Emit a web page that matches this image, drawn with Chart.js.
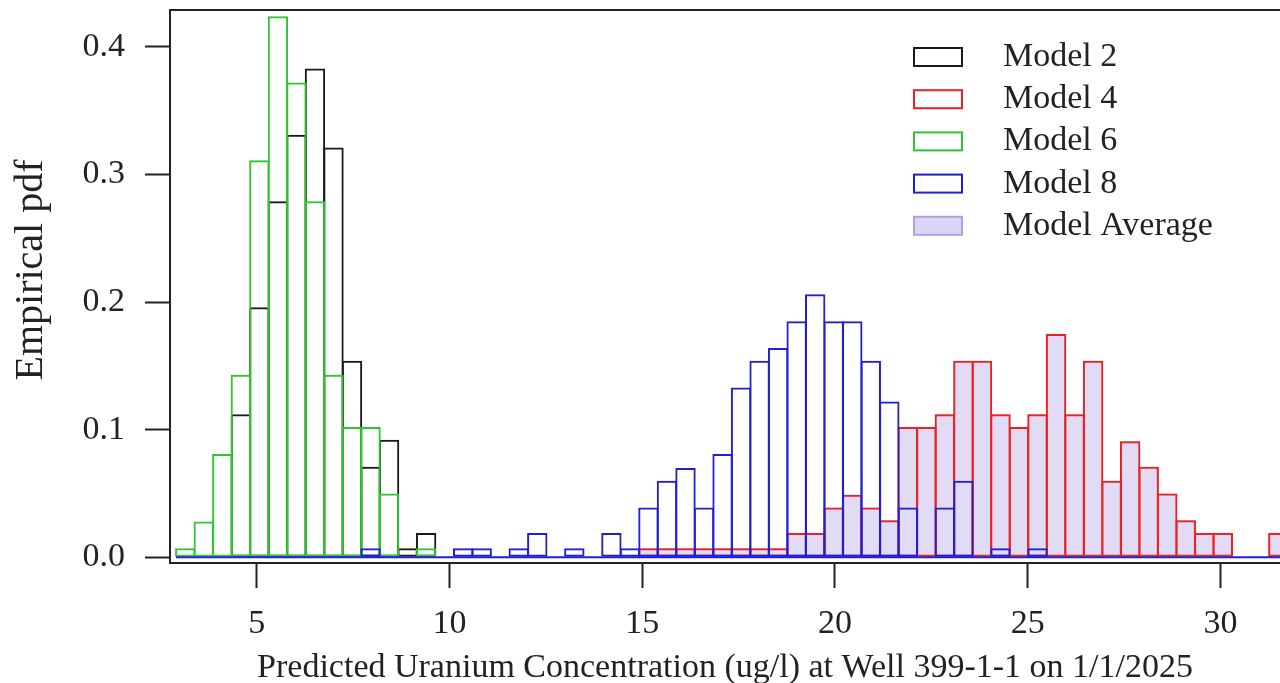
<!DOCTYPE html>
<html>
<head>
<meta charset="utf-8">
<script src="https://cdn.jsdelivr.net/npm/chart.js@4"></script>
<style>
  html, body { margin: 0; padding: 0; background: #fff; overflow: hidden; }
  #wrap { width: 1280px; height: 683px; }
</style>
</head>
<body>
<div id="wrap"><canvas id="histChart" width="1280" height="683"></canvas></div>
<script>
// histogram bins (left edge of first bin, bin width), 60 bins
const binStart = 2.907;
const binWidth = 0.4806;
const binCount = 60;
const binCenters = Array.from({ length: binCount }, (_, i) => binStart + binWidth * (i + 0.5));

// empirical pdf per bin (0 = empty bin)
const model2 = [
  0, 0, 0, 0.112, 0.196, 0.279, 0.331, 0.383, 0.321, 0.154,
  0.071, 0.092, 0.007, 0.019, 0, 0, 0, 0, 0, 0,
  0, 0, 0, 0, 0, 0, 0, 0, 0, 0,
  0, 0, 0, 0, 0, 0, 0, 0, 0, 0,
  0, 0, 0, 0, 0, 0, 0, 0, 0, 0,
  0, 0, 0, 0, 0, 0, 0, 0, 0, 0
];
const model4 = [
  0, 0, 0, 0, 0, 0, 0, 0, 0, 0,
  0, 0, 0, 0, 0, 0, 0, 0, 0, 0,
  0, 0, 0, 0, 0, 0.007, 0.007, 0.007, 0.007, 0.007,
  0.007, 0.007, 0.007, 0.019, 0.019, 0.039, 0.049, 0.039, 0.029, 0.102,
  0.102, 0.112, 0.154, 0.154, 0.112, 0.102, 0.112, 0.175, 0.112, 0.154,
  0.060, 0.091, 0.071, 0.050, 0.029, 0.019, 0.019, 0, 0, 0.019
];
const model6 = [
  0.007, 0.028, 0.081, 0.143, 0.311, 0.424, 0.372, 0.279, 0.143, 0.102,
  0.102, 0.050, 0, 0.007, 0, 0, 0, 0, 0, 0,
  0, 0, 0, 0, 0, 0, 0, 0, 0, 0,
  0, 0, 0, 0, 0, 0, 0, 0, 0, 0,
  0, 0, 0, 0, 0, 0, 0, 0, 0, 0,
  0, 0, 0, 0, 0, 0, 0, 0, 0, 0
];
const model8 = [
  0, 0, 0, 0, 0, 0, 0, 0, 0, 0,
  0.007, 0, 0, 0, 0, 0.007, 0.007, 0, 0.007, 0.019,
  0, 0.007, 0, 0.019, 0.007, 0.039, 0.060, 0.070, 0.039, 0.081,
  0.133, 0.154, 0.164, 0.185, 0.206, 0.185, 0.185, 0.154, 0.122, 0.039,
  0, 0.039, 0.060, 0, 0.007, 0, 0.007, 0, 0, 0,
  0, 0, 0, 0, 0, 0, 0, 0, 0, 0
];
const modelAvg = [
  0, 0, 0, 0, 0, 0, 0, 0, 0, 0,
  0, 0, 0, 0, 0, 0, 0, 0, 0, 0,
  0, 0, 0, 0, 0, 0.007, 0.007, 0.007, 0.007, 0.007,
  0.007, 0.007, 0.007, 0.019, 0.019, 0.039, 0.049, 0.039, 0.029, 0.102,
  0.102, 0.112, 0.154, 0.154, 0.112, 0.102, 0.112, 0.175, 0.112, 0.154,
  0.060, 0.091, 0.071, 0.050, 0.029, 0.019, 0.019, 0, 0, 0.019
];

const xTickValues = [5, 10, 15, 20, 25, 30];
const yTickValues = [0, 0.1, 0.2, 0.3, 0.4];

const FONT = 'Liberation Serif';
const FSIZE = 34;
const TXT = '#222';
const Y_TITLE = 'Empirical pdf';

const toPoints = arr => arr.map((v, i) => ({ x: binCenters[i], y: v === 0 ? null : v }));

function outlineSet(label, values, color, order) {
  return {
    label: label,
    data: toPoints(values),
    borderColor: color,
    backgroundColor: 'rgba(0,0,0,0)',
    legendFill: '#fff',
    borderWidth: 2,
    order: order
  };
}

// frame top line, blue zero line, y title and legend inside plot
const decorPlugin = {
  id: 'decor',
  afterDatasetsDraw(chart) {
    const { ctx, chartArea, scales } = chart;
    const y0 = scales.y.getPixelForValue(0);
    ctx.save();
    ctx.beginPath();
    ctx.rect(chartArea.left, chartArea.top, chartArea.right - chartArea.left, chartArea.bottom - chartArea.top);
    ctx.clip();
    ctx.strokeStyle = '#1f1fd6';
    ctx.lineWidth = 2;
    ctx.beginPath();
    ctx.moveTo(scales.x.getPixelForValue(binStart), y0);
    ctx.lineTo(chartArea.right, y0);
    ctx.stroke();
    ctx.restore();
  },
  afterDraw(chart) {
    const { ctx, chartArea } = chart;
    ctx.save();
    ctx.strokeStyle = TXT;
    ctx.lineWidth = 2;
    ctx.beginPath();
    ctx.moveTo(chartArea.left - 1, chartArea.top);
    ctx.lineTo(chartArea.right, chartArea.top);
    ctx.stroke();

    // y axis title
    ctx.save();
    ctx.translate(31, 270);
    ctx.rotate(-Math.PI / 2);
    ctx.font = '40px "' + FONT + '"';
    ctx.fillStyle = TXT;
    ctx.textAlign = 'center';
    ctx.textBaseline = 'middle';
    ctx.fillText(Y_TITLE, 0, 0);
    ctx.restore();

    // legend
    ctx.font = FSIZE + 'px "' + FONT + '"';
    ctx.textBaseline = 'middle';
    ctx.textAlign = 'left';
    chart.data.datasets.forEach((ds, i) => {
      const cy = 57 + i * 42.2;
      ctx.fillStyle = ds.legendFill;
      ctx.fillRect(914, cy - 9, 48, 18);
      ctx.strokeStyle = ds.legendBorder || ds.borderColor;
      ctx.lineWidth = 2;
      ctx.strokeRect(914, cy - 9, 48, 18);
      ctx.fillStyle = TXT;
      ctx.fillText(ds.label, 1003, cy);
    });
    ctx.restore();
  }
};

const avgSet = {
  label: 'Model Average',
  data: toPoints(modelAvg),
  borderColor: 'rgba(175,160,230,1)',
  legendBorder: 'rgba(175,160,230,1)',
  backgroundColor: 'rgba(205,195,240,0.6)',
  legendFill: 'rgba(220,212,246,1)',
  borderWidth: 1,
  order: 5
};

new Chart(document.getElementById('histChart'), {
  type: 'bar',
  data: {
    datasets: [
      outlineSet('Model 2', model2, '#1a1a1a', 4),
      outlineSet('Model 4', model4, '#ee2020', 3),
      outlineSet('Model 6', model6, '#2ec52e', 2),
      outlineSet('Model 8', model8, '#1f1fd6', 1),
      avgSet
    ]
  },
  options: {
    responsive: false,
    animation: false,
    devicePixelRatio: 1,
    layout: { padding: { top: 10, right: 0, left: 0, bottom: 0 } },
    datasets: {
      bar: {
        grouped: false,
        categoryPercentage: 1,
        barPercentage: 1.1,
        borderSkipped: false,
        inflateAmount: 0
      }
    },
    plugins: {
      legend: { display: false },
      tooltip: { enabled: false }
    },
    scales: {
      x: {
        type: 'linear',
        offset: false,
        min: 2.751,
        max: 31.545,
        afterBuildTicks: s => { s.ticks = xTickValues.map(v => ({ value: v })); },
        afterFit: s => { s.height = 120; s.paddingLeft = 0; s.paddingRight = 0; },
        ticks: {
          font: { family: FONT, size: FSIZE },
          color: TXT,
          padding: 16,
          maxRotation: 0,
          callback: v => String(v)
        },
        grid: { offset: false, drawOnChartArea: false, drawTicks: true, tickLength: 25, tickWidth: 2, tickColor: TXT },
        border: { display: true, color: TXT, width: 2 },
        title: {
          display: true,
          text: 'Predicted Uranium Concentration (ug/l) at Well 399-1-1 on 1/1/2025',
          font: { family: FONT, size: FSIZE, lineHeight: 0.9 },
          color: TXT,
          padding: { top: 0, bottom: 0 }
        }
      },
      y: {
        min: -0.00447,
        max: 0.4288,
        afterBuildTicks: s => { s.ticks = yTickValues.map(v => ({ value: v })); },
        afterFit: s => { s.width = 170; s.paddingTop = 0; s.paddingBottom = 0; },
        ticks: {
          font: { family: FONT, size: FSIZE },
          color: TXT,
          padding: 20,
          callback: v => v.toFixed(1)
        },
        grid: { drawOnChartArea: false, drawTicks: true, tickLength: 25, tickWidth: 2, tickColor: TXT },
        border: { display: true, color: TXT, width: 2 },
        title: { display: false }
      }
    }
  },
  plugins: [decorPlugin]
});
</script>
</body>
</html>
